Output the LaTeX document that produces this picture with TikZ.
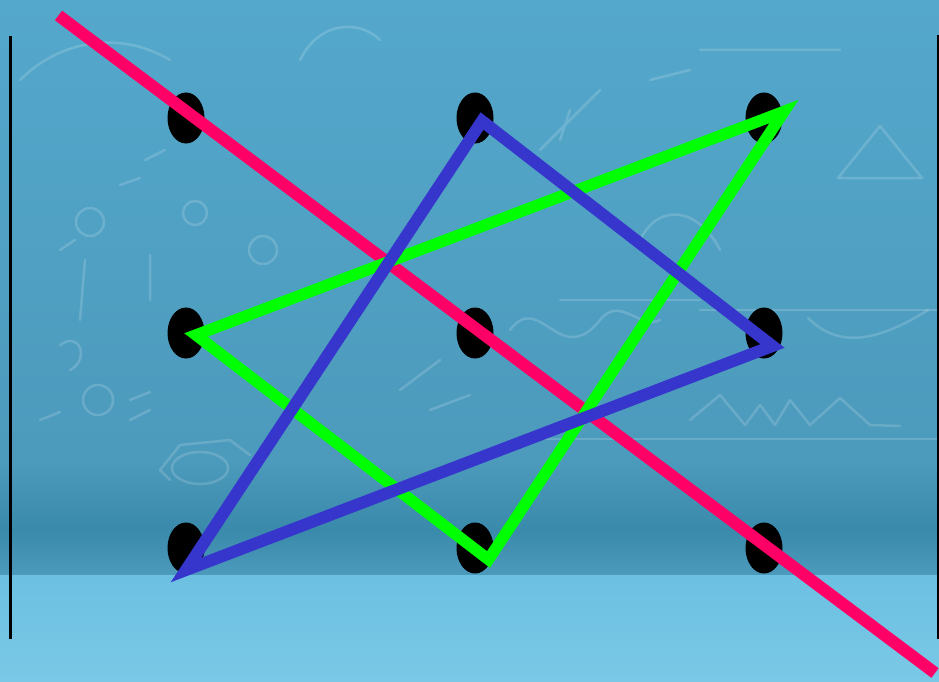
\documentclass[tikz,border=0pt]{standalone}
\usetikzlibrary{shapes.geometric}
\definecolor{bgtop}{RGB}{84,168,204}
\definecolor{bgmid}{RGB}{76,154,188}
\definecolor{bgdark}{RGB}{58,138,172}
\definecolor{bglow}{RGB}{108,192,226}
\definecolor{bgbot}{RGB}{122,200,230}
\definecolor{redline}{RGB}{255,0,102}
\definecolor{greenline}{RGB}{0,255,0}
\definecolor{blueline}{RGB}{54,54,204}
\tikzset{
  dot/.style={ellipse, fill=black, draw=none, minimum width=37pt, minimum height=51pt, inner sep=0pt},
  chalk/.style={draw=white, opacity=0.16, line width=2.5pt, line cap=round, line join=round},
  edgeline/.style={draw=black, line width=3pt},
  redstroke/.style={draw=redline, line width=12pt},
  greenstroke/.style={draw=greenline, line width=11.5pt, line join=miter, miter limit=10},
  bluestroke/.style={draw=blueline, line width=12pt, line join=miter, miter limit=10}
}
\begin{document}
\begin{tikzpicture}[x=1pt,y=-1pt]
\useasboundingbox (0,0) rectangle (939,682);
% background
\shade[top color=bgtop, bottom color=bgmid] (0,0) rectangle (939,460);
\shade[top color=bgmid, bottom color=bgdark] (0,460) rectangle (939,530);
\shade[top color=bgdark, bottom color=bgmid] (0,530) rectangle (939,575);
\shade[top color=bglow, bottom color=bgbot] (0,575) rectangle (939,682);
% chalk scribbles
\draw[chalk] (90,222) circle (14);
\draw[chalk] (195,213) circle (12);
\draw[chalk] (263,250) circle (14);
\draw[chalk] (98,400) circle (15);
\draw[chalk] (200,468) ellipse (28 and 16);
\draw[chalk] (170,480) -- (160,470) -- (180,445) -- (230,440) -- (250,455);
\draw[chalk] (145,160) -- (165,150) (120,185) -- (140,178) (60,250) -- (75,240);
\draw[chalk] (150,255) -- (150,300) (85,260) -- (80,320);
\draw[chalk] (40,420) -- (60,412) (130,420) -- (150,410) (130,400) -- (150,392);
\draw[chalk] (60,345) .. controls (80,330) and (90,360) .. (70,370);
\draw[chalk] (20,80) .. controls (60,40) and (120,30) .. (170,60);
\draw[chalk] (300,60) .. controls (320,20) and (360,20) .. (380,40);
\draw[chalk] (510,330) .. controls (540,290) and (560,370) .. (600,320) .. controls (620,295) and (640,330) .. (660,320);
\draw[chalk] (808,318) .. controls (840,350) and (880,340) .. (928,310);
\draw[chalk] (560,300) -- (700,300) (700,310) -- (939,310);
\draw[chalk] (540,439) -- (939,439);
\draw[chalk] (690,420) -- (720,395) -- (745,425) -- (760,405) -- (775,425) -- (790,400) -- (810,425) -- (840,398) -- (870,425) -- (900,426);
\draw[chalk] (838,178) -- (880,126) -- (922,178) -- cycle;
\draw[chalk] (540,150) -- (600,90) (560,140) -- (570,110);
\draw[chalk] (700,50) -- (840,50) (650,80) -- (690,70);
\draw[chalk] (400,390) -- (440,360) (430,410) -- (470,395);
\draw[chalk] (640,240) .. controls (660,200) and (700,210) .. (720,250);
% side lines
\coordinate (lt) at (10,36); \coordinate (lb) at (10,639);
\coordinate (rt) at (938,35); \coordinate (rb) at (938,639);
\draw[edgeline] (lt) -- (lb);
\draw[edgeline] (rt) -- (rb);
% dots
\node[dot] (d11) at (186,118) {};
\node[dot] (d12) at (475,118) {};
\node[dot] (d13) at (764,118) {};
\node[dot] (d21) at (186,333) {};
\node[dot] (d22) at (475,333) {};
\node[dot] (d23) at (764,333) {};
\node[dot] (d31) at (186,548) {};
\node[dot] (d32) at (475,548) {};
\node[dot] (d33) at (764,548) {};
% red line
\coordinate (rs) at (58.5,15.5);
\coordinate (re) at (935,673);
\draw[redstroke] (rs) -- (re);
% green triangle
\coordinate (g1) at (196,335);
\coordinate (g2) at (784,111.5);
\coordinate (g3) at (488.5,559.5);
\draw[greenstroke] (g1) -- (g2) -- (g3) -- cycle;
% blue triangle
\coordinate (b1) at (482,121);
\coordinate (b2) at (772.5,346);
\coordinate (b3) at (186,570);
\draw[bluestroke] (b1) -- (b2) -- (b3) -- cycle;
\end{tikzpicture}
\end{document}
